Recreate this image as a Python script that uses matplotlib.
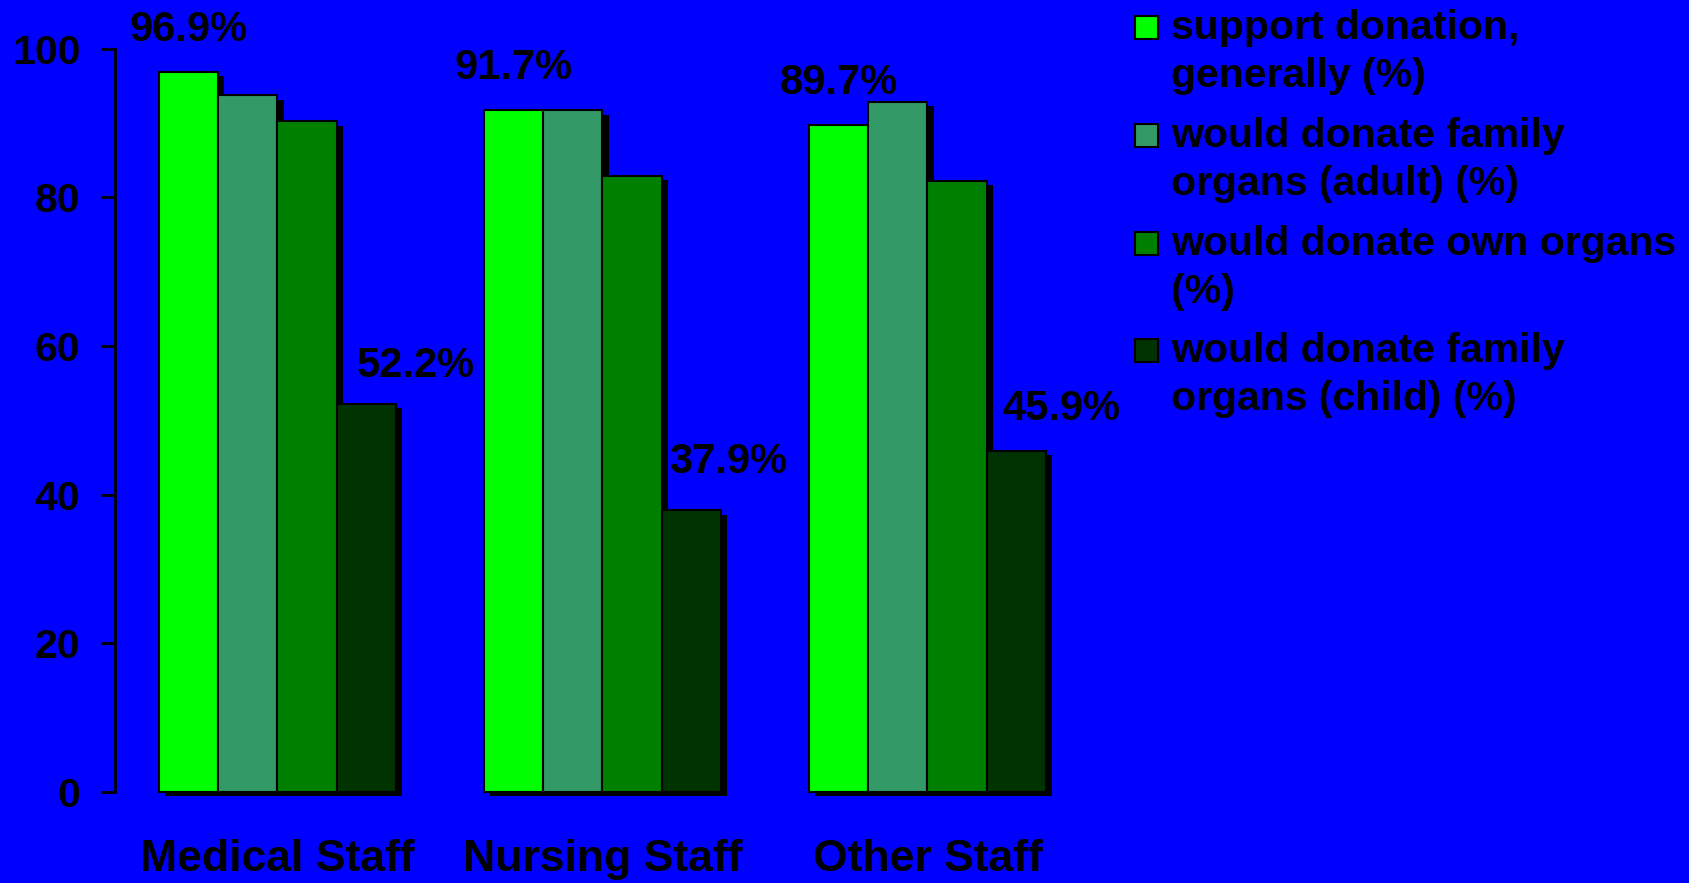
import matplotlib
matplotlib.use("Agg")
import matplotlib.pyplot as plt
from matplotlib.patches import Rectangle
import matplotlib.patheffects as pe
import numpy as np

plt.rcParams['font.family'] = ['Liberation Sans', 'DejaVu Sans']
plt.rcParams['font.weight'] = 'bold'

categories = ["Medical Staff", "Nursing Staff", "Other Staff"]
series_names = ["support donation,\ngenerally (%)",
                "would donate family\norgans (adult) (%)",
                "would donate own organs\n(%)",
                "would donate family\norgans (child) (%)"]
support_general = [96.9, 91.7, 89.7]
family_adult = [93.7, 91.7, 92.8]
own_organs = [90.2, 82.9, 82.2]
family_child = [52.2, 37.9, 45.9]
yticks = [0, 20, 40, 60, 80, 100]

series = [support_general, family_adult, own_organs, family_child]
colors = ["#00FF00", "#339966", "#008000", "#003300"]
BLUE = "#0000FF"

fig = plt.figure(figsize=(16.9, 8.83), dpi=100, facecolor=BLUE)
ax = fig.add_axes([115/1690, 91/883, 975/1690, 743.5/883])
ax.set_facecolor(BLUE)

x = np.arange(len(categories))
w = 0.1825
shadow = [pe.SimplePatchShadow(offset=(4.5, -3.2), shadow_rgbFace='black', alpha=1.0), pe.Normal()]
bars_all = []
for i, (vals, c) in enumerate(zip(series, colors)):
    bars = ax.bar(x + (i - 1.5) * w, vals, width=w, color=c, edgecolor='black',
                  linewidth=1.5, clip_on=False, zorder=2 + i)
    for b in bars:
        b.set_path_effects(shadow)
    bars_all.append(bars)

first_offsets = [(0, 22), (0, 22), (0, 22)]
last_offsets = [(49, 18), (37, 28), (45, 22)]
for bars, offs in ((bars_all[0], first_offsets), (bars_all[3], last_offsets)):
    for b, (dx, dy) in zip(bars, offs):
        ax.annotate(f"{b.get_height():.1f}%",
                    xy=(b.get_x() + b.get_width() / 2, b.get_height()),
                    xytext=(dx, dy), textcoords='offset pixels',
                    ha='center', va='bottom', fontsize=30, fontweight='bold',
                    color='black', annotation_clip=False, zorder=10)

ax.set_xlim(-0.5, 2.5)
ax.set_ylim(0, 100)
ax.set_yticks(yticks)
ax.set_yticklabels([str(t) for t in yticks])
ax.set_xticks(x)
ax.set_xticklabels(categories)
ax.tick_params(axis='y', direction='out', length=10, width=2, pad=15,
               labelsize=29.5, colors='black')
ax.tick_params(axis='x', length=0, pad=34, labelsize=32, colors='black')
for lab in ax.get_xticklabels() + ax.get_yticklabels():
    lab.set_fontweight('bold')
for s in ['top', 'right', 'bottom']:
    ax.spines[s].set_visible(False)
ax.spines['left'].set_linewidth(2)
ax.spines['left'].set_color('black')

sq = 23
x_sq = 1135
x_txt = 1171
baselines = [39, 147, 255, 362]
H = 883
for name, c, bl in zip(series_names, colors, baselines):
    fig.patches.append(Rectangle((x_sq / 1690, (H - bl) / H), sq / 1690, sq / H,
                                 transform=fig.transFigure, facecolor=c,
                                 edgecolor='black', linewidth=1.5))
    for k, line in enumerate(name.split("\n")):
        fig.text(x_txt / 1690, (H - bl - k * 48) / H, line, fontsize=29.5,
                 fontweight='bold', color='black', ha='left', va='baseline')

fig.savefig("out.png", dpi=100, facecolor=BLUE)
